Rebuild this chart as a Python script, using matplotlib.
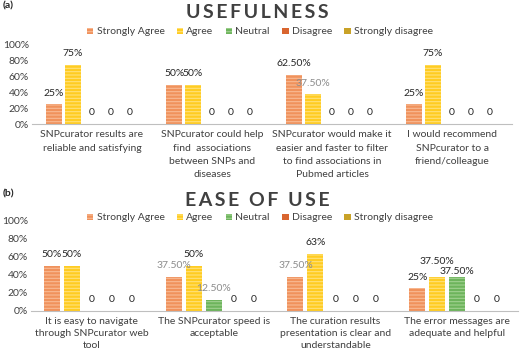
import numpy as np
import matplotlib.pyplot as plt

plt.rcParams['font.family'] = ['Lato', 'DejaVu Sans']
plt.rcParams['hatch.linewidth'] = 0.8

series = ['Strongly Agree', 'Agree', 'Neutral', 'Disagree', 'Strongly disagree']
colors = ['#F0925C', '#FFCC22', '#6DB45C', '#D9652F', '#C9A227']
stripes = ['#F8BA94', '#FFE27A', '#A0D190', '#D9652F', '#C9A227']

use_cats = ['SNPcurator results are\nreliable and satisfying',
            'SNPcurator could help\nfind  associations\nbetween SNPs and\ndiseases',
            'SNPcurator would make it\neasier and faster to filter\nto find associations in\nPubmed articles',
            'I would recommend\nSNPcurator to a\nfriend/colleague']
use_sa = [25, 50, 62.5, 25]
use_agree = [75, 50, 37.5, 75]
use_neutral = [0, 0, 0, 0]
use_dis = [0, 0, 0, 0]
use_sd = [0, 0, 0, 0]

ease_cats = ['It is easy to navigate\nthrough SNPcurator web\ntool',
             'The SNPcurator speed is\nacceptable',
             'The curation results\npresentation is clear and\nunderstandable',
             'The error messages are\nadequate and helpful']
ease_sa = [50, 37.5, 37.5, 25]
ease_agree = [50, 50, 63, 37.5]
ease_neutral = [0, 12.5, 0, 37.5]
ease_dis = [0, 0, 0, 0]
ease_sd = [0, 0, 0, 0]

# labels drawn in grey in the original (series index, category index)
use_grey = {(1, 2)}
ease_grey = {(0, 1), (2, 1), (0, 2)}


def fmt(v):
    if v == 0:
        return '0'
    if v == int(v):
        return f'{v:.0f}%'
    return f'{v:.2f}%'


def spaced(s):
    return '\u2009'.join(s)


def panel(rect, cats, data, grey, title, title_y, leg_y, tag, tag_y, slot,
          lsp=1.62, extra=None):
    ax = fig.add_axes(rect)
    x = np.arange(len(cats))
    for i, vals in enumerate(data):
        pos = x + (i - 2) * slot
        ax.bar(pos, np.array(vals) / 100, width=slot * 0.8, color=colors[i],
               edgecolor=stripes[i], hatch='-----', linewidth=0, label=series[i])
        for j, v in enumerate(vals):
            dy = 8
            if extra and (i, j) in extra:
                dy = extra[(i, j)]
            c = '#8c8c8c' if (i, j) in grey else '#262626'
            ax.annotate(fmt(v), (pos[j], v / 100), xytext=(0, dy),
                        textcoords='offset points', ha='center', va='center',
                        fontsize=7.5, color=c)
    ax.set_ylim(0, 1)
    ax.set_xlim(-0.5, len(cats) - 0.5)
    ax.set_yticks(np.linspace(0, 1, 6))
    ax.set_yticklabels([f'{int(t)}%' for t in np.linspace(0, 100, 6)])
    ax.set_xticks(x)
    ax.set_xticklabels(cats, fontsize=7.5, color='#404040', linespacing=lsp)
    ax.tick_params(length=0, labelsize=7.5, colors='#404040')
    ax.tick_params(axis='x', pad=4.5)
    ax.tick_params(axis='y', pad=2)
    for s in ['top', 'right', 'left']:
        ax.spines[s].set_visible(False)
    ax.spines['bottom'].set_color('#bfbfbf')
    fig.text(0.495, title_y, spaced(title), ha='center', va='center', fontsize=14,
             fontweight='bold', color='#404040')
    fig.legend(*ax.get_legend_handles_labels(), loc='center', ncol=5,
               bbox_to_anchor=(0.5, leg_y), frameon=False, fontsize=7.5,
               handlelength=0.6, handleheight=0.6, handletextpad=0.3,
               columnspacing=1.2, labelcolor='#404040')
    fig.text(0.006, tag_y, tag, ha='left', va='center', fontsize=7.5,
             fontweight='bold', color='#262626')
    return ax


fig = plt.figure(figsize=(5.2, 3.52), dpi=100)

panel([32 / 520, 1 - 124 / 352, 480 / 520, 79 / 352], use_cats,
      [use_sa, use_agree, use_neutral, use_dis, use_sd], use_grey,
      'USEFULNESS', 1 - 12 / 352, 1 - 32 / 352, '(a)', 1 - 6 / 352, 0.158)

panel([31 / 520, 1 - 311 / 352, 487 / 520, 91 / 352], ease_cats,
      [ease_sa, ease_agree, ease_neutral, ease_dis, ease_sd], ease_grey,
      'EASE OF USE', 1 - 200 / 352, 1 - 218 / 352, '(b)', 1 - 194 / 352, 0.164,
      lsp=1.42, extra={(1, 3): 11, (2, 3): 4})

fig.savefig('out.png', dpi=100)
